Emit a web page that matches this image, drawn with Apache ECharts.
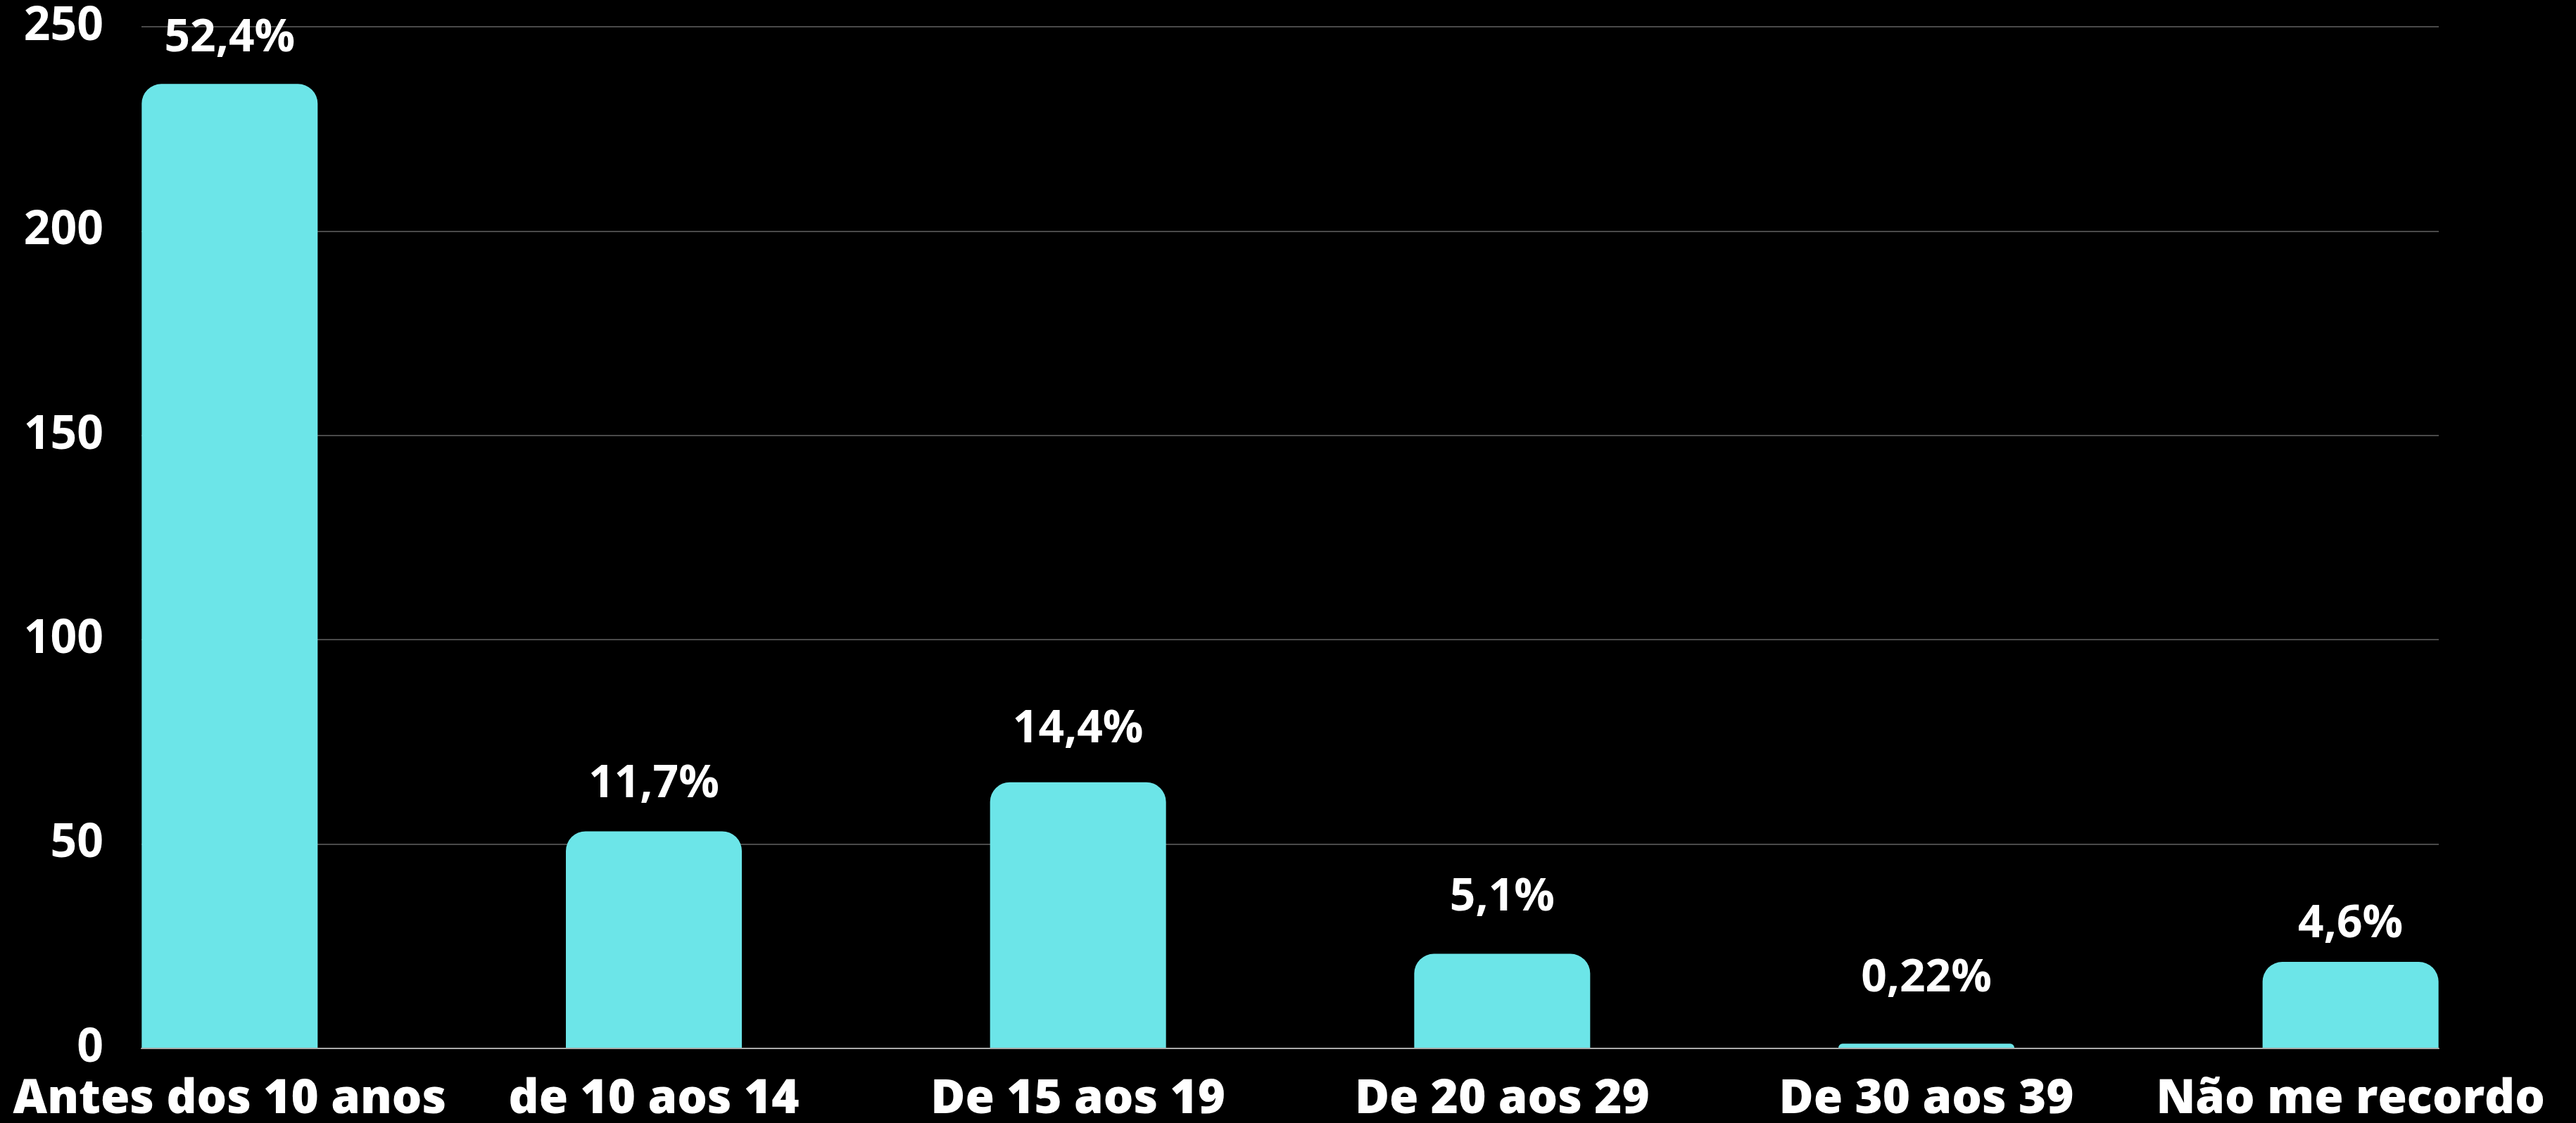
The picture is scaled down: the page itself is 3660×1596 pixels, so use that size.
<!DOCTYPE html>
<html>
<head>
<meta charset="utf-8">
<style>
  html, body { margin: 0; padding: 0; background: #000; }
  #chart { width: 3660px; height: 1596px; }
</style>
<script src="https://cdn.jsdelivr.net/npm/echarts@6/dist/echarts.min.js"></script>
</head>
<body>
<div id="chart"></div>
<script>
const categories = ['Antes dos 10 anos', 'de 10 aos 14', 'De 15 aos 19', 'De 20 aos 29', 'De 30 aos 39', 'Não me recordo']
const counts = [236, 53, 65, 23, 1, 21]
const percentLabels = ['52,4%', '11,7%', '14,4%', '5,1%', '0,22%', '4,6%']
const yTicks = [0, 50, 100, 150, 200, 250]

// the percentage labels sit at uneven heights above their bars in the original
const labelGaps = [32, 35, 43, 48, 60, 21]

const FONT = '"Open Sans", "Noto Sans", sans-serif'
const BAR_COLOR = '#6ce5e8'

const chart = echarts.init(document.getElementById('chart'))

const barData = counts.map(function (v, i) {
    return {value: v, label: {distance: labelGaps[i]}}
})

const option = {
    backgroundColor: '#000',
    animation: false,
    // grid 0: gridlines + y labels, grid 1: the bars
    grid: [
        {left: 201, right: 195, top: 38, bottom: 106},
        {left: 25, right: 19, top: 38, bottom: 106}
    ],
    xAxis: [
        {
            gridIndex: 0,
            type: 'category',
            data: categories,
            axisLine: {show: true, lineStyle: {color: '#aaaaaa', width: 2}},
            axisTick: {show: false},
            axisLabel: {show: false},
            splitLine: {show: false}
        },
        {
            gridIndex: 1,
            type: 'category',
            data: categories,
            axisLine: {show: false},
            axisTick: {show: false},
            axisLabel: {
                interval: 0,
                color: '#fff',
                fontFamily: FONT,
                fontWeight: 800,
                fontSize: 67,
                margin: 40
            }
        }
    ],
    yAxis: [
        {
            gridIndex: 0,
            type: 'value',
            min: yTicks[0],
            max: yTicks[yTicks.length - 1],
            interval: 50,
            axisLine: {show: false},
            axisTick: {show: false},
            axisLabel: {
                color: '#fff',
                fontFamily: FONT,
                fontWeight: 'bold',
                fontSize: 66,
                margin: 54
            },
            splitLine: {lineStyle: {color: '#4a4a4a', width: 2}}
        },
        {
            gridIndex: 1,
            type: 'value',
            min: yTicks[0],
            max: yTicks[yTicks.length - 1],
            show: false,
            splitLine: {show: false}
        }
    ],
    series: [
        {
            type: 'bar',
            xAxisIndex: 1,
            yAxisIndex: 1,
            data: barData,
            barWidth: 250,
            itemStyle: {color: BAR_COLOR, borderRadius: [28, 28, 0, 0]},
            label: {
                show: true,
                position: 'top',
                color: '#fff',
                fontFamily: FONT,
                fontWeight: 'bold',
                fontSize: 64,
                formatter: function (params) {
                    return percentLabels[params.dataIndex]
                }
            }
        }
    ]
}

chart.setOption(option)
</script>
</body>
</html>
